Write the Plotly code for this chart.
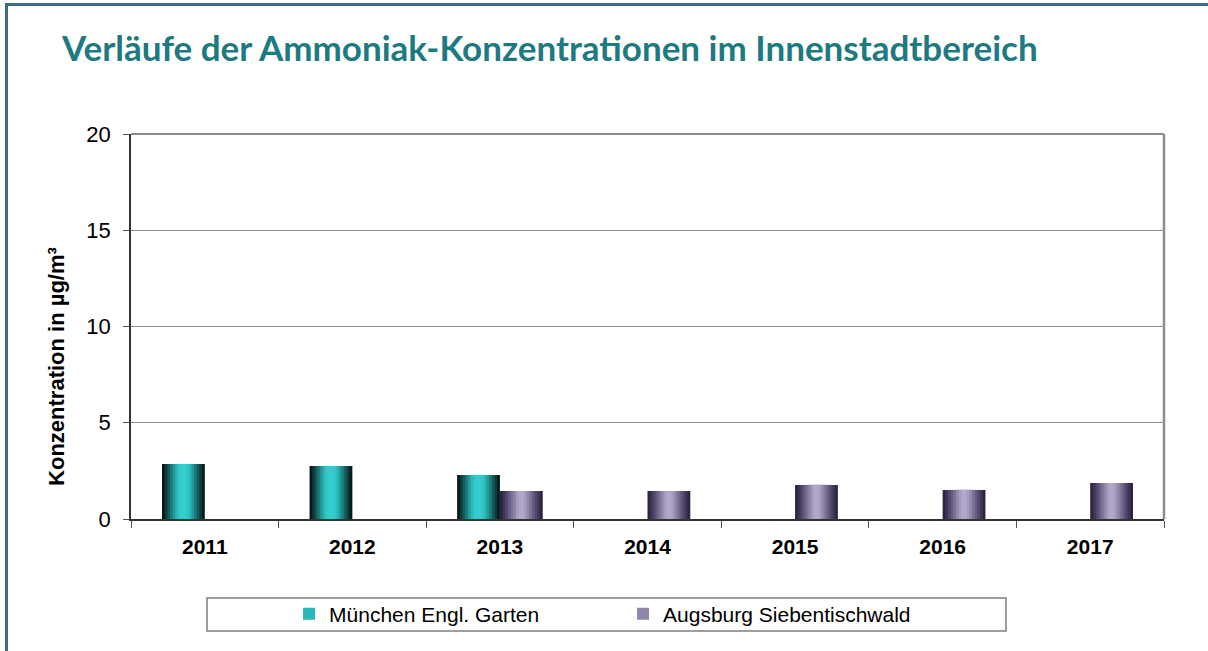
import plotly.graph_objects as go

# data
years = ["2011", "2012", "2013", "2014", "2015", "2016", "2017"]
muenchen = [2.86, 2.75, 2.29, None, None, None, None]
augsburg = [None, None, 1.45, 1.45, 1.77, 1.51, 1.87]

series_names = ["München Engl. Garten", "Augsburg Siebentischwald"]

# shading ramps (edge -> centre) to mimic the cylinder look of the original
teal_ramp = ["#061a1a", "#0d3b3b", "#145a5a", "#1b7a7a", "#229a9a", "#2ab7b7", "#31c8c8", "#34cccc"]
lilac_ramp = ["#2e2440", "#3f3556", "#52476b", "#665b80", "#7c7196", "#9086ab", "#a49bbd", "#b3a6cb"]

BAR_W = 0.29

fig = go.Figure()


def add_shaded_bars(values, name, ramp, centre, legend_idx):
    n = len(ramp)
    for k, col in enumerate(ramp):
        frac = 1 - k / n
        w = BAR_W * frac
        fig.add_trace(go.Bar(
            x=years, y=values, name=name,
            width=[w] * len(years),
            offset=[centre - w / 2] * len(years),
            marker=dict(color=col, line=dict(width=0)),
            showlegend=(k == legend_idx),
            legendgroup=name,
            hoverinfo="skip" if k != 0 else None,
        ))


add_shaded_bars(muenchen, series_names[0], teal_ramp, -BAR_W / 2, 5)
add_shaded_bars(augsburg, series_names[1], lilac_ramp, BAR_W / 2, 5)

fig.update_layout(
    width=1208, height=651,
    margin=dict(l=131, r=44, t=134, b=132),
    paper_bgcolor="white", plot_bgcolor="white",
    barmode="overlay",
    font=dict(family="Liberation Sans, Arial", color="black"),
    title=dict(
        text="Verläufe der Ammoniak-Konzentrationen im Innenstadtbereich",
        x=62 / 1208, xanchor="left", xref="container",
        y=1 - 49 / 651, yanchor="middle", yref="container",
        font=dict(family="Lato", size=35, color="#1c7a80", weight="bold"),
    ),
    showlegend=True,
    legend=dict(
        orientation="h", x=0.153, xanchor="left", y=-0.247, yanchor="middle",
        font=dict(size=21, family="Liberation Sans, Arial"),
        bgcolor="rgba(0,0,0,0)", borderwidth=0,
        entrywidth=289, entrywidthmode="pixels", itemwidth=30,
        traceorder="normal",
    ),
)

fig.update_xaxes(
    type="category", categoryorder="array", categoryarray=years,
    showline=True, linecolor="#333333", linewidth=2,
    ticks="outside", tickson="boundaries", ticklen=7, tickcolor="#555555",
    tickfont=dict(size=21, weight="bold"),
    ticklabelstandoff=8,
    showgrid=False,
)
fig.update_yaxes(
    range=[0, 20], tickvals=[0, 5, 10, 15, 20],
    showline=True, linecolor="#333333", linewidth=1.5,
    ticks="outside", ticklen=6, tickcolor="#555555",
    tickfont=dict(size=22),
    ticklabelstandoff=8,
    showgrid=True, gridcolor="#8c8c8c", gridwidth=1,
    zeroline=False,
)

# y axis title
fig.add_annotation(
    text="Konzentration in µg/m³", textangle=-90,
    xref="paper", yref="paper", x=(57 - 131) / 1033, y=0.395,
    xanchor="center", yanchor="middle",
    showarrow=False, font=dict(size=22, weight="bold"),
)

# plot frame (top and right) in grey
fig.add_shape(type="line", xref="paper", yref="paper", x0=1, x1=1, y0=0, y1=1,
              line=dict(color="#8c8c8c", width=2.5))
fig.add_shape(type="line", xref="paper", yref="paper", x0=0, x1=1, y0=1, y1=1,
              line=dict(color="#8c8c8c", width=2))

# legend box
fig.add_shape(type="rect", xref="paper", yref="paper",
              x0=(207 - 131) / 1033, x1=(1006 - 131) / 1033,
              y0=(519 - 631) / 385, y1=(519 - 598) / 385,
              line=dict(color="#7f7f7f", width=1.5), fillcolor="rgba(0,0,0,0)")

# outer slide frame (only top and left edges are visible)
fig.add_shape(type="line", xref="paper", yref="paper",
              x0=(6.5 - 131) / 1033, x1=1.2,
              y0=(519 - 4.5) / 385, y1=(519 - 4.5) / 385,
              line=dict(color="#3f6a80", width=3))
fig.add_shape(type="line", xref="paper", yref="paper",
              x0=(6.5 - 131) / 1033, x1=(6.5 - 131) / 1033,
              y0=-0.5, y1=(519 - 3) / 385,
              line=dict(color="#3f6a80", width=3))

fig.write_html("out.html", config={"displayModeBar": False},
               post_script="document.body.style.margin='0';")
